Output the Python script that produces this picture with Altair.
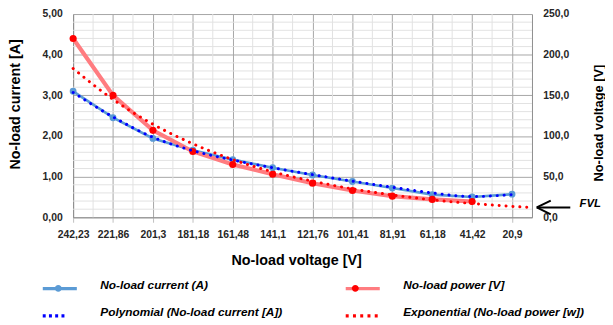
import altair as alt
import pandas as pd

FONT = "Liberation Sans"

# ---- data ----
x_labels = ["242,23", "221,86", "201,3", "181,18", "161,48", "141,1",
            "121,76", "101,41", "81,91", "61,18", "41,42", "20,9"]
x_pos = [0, 1, 2, 3, 4, 5, 6, 7, 8, 9, 10, 11]
current_a = [3.10, 2.45, 1.94, 1.65, 1.42, 1.22, 1.04, 0.88, 0.72, 0.56, 0.50, 0.57]
power_x = [0, 1, 2, 3, 4, 5, 6, 7, 8, 9, 10]
power_w = [220, 150, 107, 81, 65, 53, 42, 33, 26, 22, 19.5]
poly_trend = [3.07, 2.47, 1.97, 1.64, 1.41, 1.22, 1.05, 0.89, 0.74, 0.60, 0.51, 0.56]
exp_x = [0, 1, 2, 3, 4, 5, 6, 7, 8, 9, 10, 11, 11.5]
exp_trend = [183, 145, 114.5, 90.5, 71, 56, 44.5, 35, 27.5, 21.5, 17, 13.5, 12]
left_ticks = [0, 1, 2, 3, 4, 5]
right_ticks = [0, 50, 100, 150, 200, 250]
minor_y = [0.2, 0.4, 0.6, 0.8, 1.2, 1.4, 1.6, 1.8, 2.2, 2.4, 2.6, 2.8,
           3.2, 3.4, 3.6, 3.8, 4.2, 4.4, 4.6, 4.8]
minor_x = [0.5, 1.5, 2.5, 3.5, 4.5, 5.5, 6.5, 7.5, 8.5, 9.5, 10.5]
# legend entries (column-major order: left column, then right column)
series = ["No-load current (A)", "Polynomial (No-load current [A])",
          "No-load power [V]", "Exponential (No-load power [w])"]
marker_keys = ["k0", "k1", "k2", "k3"]
# FVL annotation (x in category steps, y in right-axis units)
arrow_x = [11.62, 11.62, 11.62]
arrow_x2 = [12.46, 11.97, 11.97]
arrow_y = [12.1, 12.1, 12.1]
arrow_y2 = [12.1, 20.6, 3.6]
fvl_x = [12.69]
fvl_y = [15.8]
fvl_text = ["FVL"]

# ---- styles ----
GRID_MAJOR = "#A6A6A6"
GRID_MINOR = "#E2E2E2"
AXIS_COL = "#8C8C8C"
LABEL_COL = "#262626"
BLUE_LINE = "#5B9BD5"
RED_LINE = "#FF7C80"

x_scale = alt.Scale(domain=[0, 11.5], nice=False, zero=False)
label_expr = "[" + ",".join("'%s'" % s for s in x_labels) + "][datum.value]"
x_axis = alt.Axis(values=x_pos, labelExpr=label_expr, title="No-load voltage [V]",
                  grid=True, gridColor=GRID_MAJOR, gridWidth=1,
                  domainColor=AXIS_COL, domainWidth=1,
                  ticks=True, tickColor="#BFBFBF", tickSize=5,
                  labelFont=FONT, labelFontSize=10.5, labelFontWeight="bold",
                  labelColor=LABEL_COL, labelPadding=7, labelFlush=False, labelOverlap=False,
                  titleFont=FONT, titleFontSize=14.5, titleFontWeight="bold", titleColor="#000000",
                  titleX=226, titleY=44, titleBaseline="middle", titleAlign="center")
X = alt.X("i:Q", scale=x_scale, axis=x_axis)
X2 = alt.X2("i2:Q")

left_axis = alt.Axis(values=left_ticks, labelExpr="replace(format(datum.value,'.2f'),'.',',')",
                     title="No-load current [A]", grid=True, gridColor=GRID_MAJOR, gridWidth=1,
                     domainColor=AXIS_COL, ticks=False, tickSize=0, labelPadding=11,
                     labelFont=FONT, labelFontSize=10.5, labelFontWeight="bold", labelColor=LABEL_COL,
                     titleFont=FONT, titleFontSize=14.5, titleFontWeight="bold", titleColor="#000000",
                     titleX=-58.5, titleY=91, titleAngle=270, titleBaseline="middle", titleAlign="center")
YL = alt.Y("v:Q", scale=alt.Scale(domain=[0, 5], nice=False), axis=left_axis)

right_axis = alt.Axis(values=right_ticks, orient="right",
                      labelExpr="replace(format(datum.value,'.1f'),'.',',')",
                      title="No-load voltage [V]", grid=False,
                      domainColor=AXIS_COL, ticks=False, tickSize=0, labelPadding=11,
                      labelFont=FONT, labelFontSize=10.5, labelFontWeight="bold", labelColor=LABEL_COL,
                      titleFont=FONT, titleFontSize=13, titleFontWeight="bold", titleColor="#000000",
                      titleX=67, titleY=110, titleAngle=270, titleBaseline="middle", titleAlign="center")
YR = alt.Y("v:Q", scale=alt.Scale(domain=[0, 250], nice=False), axis=right_axis)
YL_hidden = alt.Y("v:Q", scale=alt.Scale(domain=[0, 5], nice=False), axis=None)
YR_hidden = alt.Y("v:Q", scale=alt.Scale(domain=[0, 250], nice=False), axis=None)

# ---- legend symbols (custom paths, unit = 15px) ----
def circ(cx, r):
    return "M%.3f,0A%.3f,%.3f 0 1 1 %.3f,0A%.3f,%.3f 0 1 1 %.3f,0Z" % (cx + r, r, r, cx - r, r, r, cx + r)

def dots(xs):
    return " ".join("M%.3f,0L%.3f,0" % (x - 0.1, x + 0.1) for x in xs)

paths = ["M-1.15,0L1.15,0",
         dots([-1.053, -0.633, -0.213, 0.213]),
         "M-1.15,0L1.15,0",
         dots([-1.05, -0.56, -0.07, 0.42, 0.91])]
line_cols = [BLUE_LINE, "#0000FF", RED_LINE, "#FF0000"]
marker_cols = [BLUE_LINE, "transparent", "#FF0000", "transparent"]
circle_path = circ(0.03, 0.233)

legA = alt.Legend(orient="none", legendX=-30.5, legendY=261, columns=2, columnPadding=57,
                  rowPadding=4, symbolSize=900, symbolStrokeWidth=3.3,
                  labelFont=FONT, labelFontSize=12, labelFontStyle="italic", labelFontWeight="bold",
                  labelColor="#000000", labelOffset=24, labelLimit=400, labelBaseline="alphabetic",
                  title=None, padding=0)
legB = alt.Legend(orient="none", legendX=-30.5, legendY=263, columns=2, columnPadding=271,
                  rowPadding=4, symbolSize=900, symbolStrokeWidth=0, symbolType=circle_path,
                  labelExpr="''", labelOffset=0, title=None, padding=0)

dummyA = alt.Chart(pd.DataFrame({"s1": series})).mark_point(opacity=0).encode(
    stroke=alt.Stroke("s1:N", scale=alt.Scale(domain=series, range=line_cols), legend=legA),
    shape=alt.Shape("s1:N", scale=alt.Scale(domain=series, range=paths), legend=legA),
)
dummyB = alt.Chart(pd.DataFrame({"s2": marker_keys})).mark_point(opacity=0, filled=True).encode(
    color=alt.Color("s2:N", scale=alt.Scale(domain=marker_keys, range=marker_cols), legend=legB),
)

# ---- group A: grid + current ----
minor_h = alt.Chart(pd.DataFrame({"v": minor_y})).mark_rule(color=GRID_MINOR, strokeWidth=1).encode(y=YL)
minor_v = alt.Chart(pd.DataFrame({"i": minor_x})).mark_rule(color=GRID_MINOR, strokeWidth=1).encode(x=X)
dfc = pd.DataFrame({"i": x_pos, "v": current_a})
cur_line = alt.Chart(dfc).mark_line(color=BLUE_LINE, strokeWidth=2.7).encode(x=X, y=YL)
cur_pts = alt.Chart(dfc).mark_circle(color=BLUE_LINE, size=48, opacity=1).encode(x=X, y=YL)
groupA = alt.layer(minor_h, minor_v, cur_line, cur_pts, dummyA, dummyB)

# ---- group B: power ----
dfp = pd.DataFrame({"i": power_x, "v": power_w})
pow_line = alt.Chart(dfp).mark_line(color=RED_LINE, strokeWidth=4.2).encode(x=X, y=YR)
pow_pts = alt.Chart(dfp).mark_circle(color="#FF0000", size=52, opacity=1).encode(x=X, y=YR)
groupB = alt.layer(pow_line, pow_pts)

# ---- group C: polynomial trend ----
dfpt = pd.DataFrame({"i": x_pos, "v": poly_trend})
poly = alt.Chart(dfpt).mark_line(color="#0000FF", strokeWidth=3, strokeDash=[0.1, 6.9],
                                 strokeCap="round", interpolate="monotone").encode(x=X, y=YL_hidden)
groupC = alt.layer(poly)

# ---- group D: exponential trend + FVL ----
dfet = pd.DataFrame({"i": exp_x, "v": exp_trend})
expo = alt.Chart(dfet).mark_line(color="#FF0000", strokeWidth=3, strokeDash=[0.1, 6.9],
                                 strokeCap="round", interpolate="monotone").encode(x=X, y=YR_hidden)
dfa = pd.DataFrame({"i": arrow_x, "i2": arrow_x2, "v": arrow_y, "v2": arrow_y2})
arrow = alt.Chart(dfa).mark_rule(color="#000000", strokeWidth=2).encode(
    x=X, x2=X2, y=YR_hidden, y2=alt.Y2("v2:Q"))
dff = pd.DataFrame({"i": fvl_x, "v": fvl_y, "t": fvl_text})
fvl = alt.Chart(dff).mark_text(font=FONT, fontSize=11.5, fontStyle="italic", fontWeight="bold",
                               align="left", baseline="middle", color="#000000").encode(
    x=X, y=YR_hidden, text="t:N")
groupD = alt.layer(expo, arrow, fvl)

chart = alt.layer(groupA, groupB, groupC, groupD).resolve_scale(y="independent").properties(
    width=465, height=206,
    padding={"left": 66, "top": 4, "right": 74, "bottom": 107},
    autosize=alt.AutoSizeParams(type="none"),
).configure(font=FONT).configure_view(stroke=None)

chart.save("out.html", embed_options={"renderer": "svg", "actions": False})
